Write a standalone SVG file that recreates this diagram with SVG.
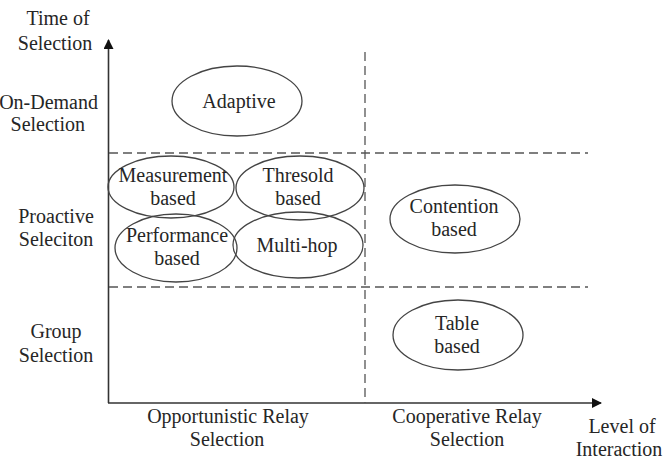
<svg xmlns="http://www.w3.org/2000/svg" width="663" height="459" viewBox="0 0 663 459">
<defs>
<style>
text{font-size:20px;fill:#262626;text-anchor:middle}
.ax{stroke:#333;stroke-width:1.6;fill:none}
.dash{stroke:#555;stroke-width:1.3;stroke-dasharray:9,5;fill:none}
ellipse{fill:none;stroke:#444;stroke-width:1.3}
</style>
<marker id="arr" markerWidth="10" markerHeight="10" refX="9" refY="5" orient="auto" markerUnits="userSpaceOnUse"><path d="M0,0 L10,5 L0,10 Z" fill="#111"/></marker>
</defs>
<rect width="663" height="459" fill="#fff"/>
<g id="connectors">
<line class="ax" x1="108.5" y1="403" x2="108.5" y2="40" marker-end="url(#arr)"/>
<line class="ax" x1="108" y1="403" x2="601" y2="403" marker-end="url(#arr)"/>
<line class="dash" x1="109" y1="153" x2="588" y2="153"/>
<line class="dash" x1="109" y1="287" x2="588" y2="287"/>
<line class="dash" x1="365" y1="52" x2="365" y2="403"/>
</g>
<g font-family="'Liberation Serif', 'Times New Roman', serif">
<g id="axis-labels">
<text x="58" y="25">Time of</text>
<text x="55" y="50">Selection</text>
<text x="98" y="109" style="text-anchor:end">On-Demand</text>
<text x="85" y="131" style="text-anchor:end">Selection</text>
<text x="56" y="223">Proactive</text>
<text x="56" y="246">Seleciton</text>
<text x="56" y="338">Group</text>
<text x="56" y="362">Selection</text>
<text x="228" y="423">Opportunistic Relay</text>
<text x="227" y="446">Selection</text>
<text x="467" y="423">Cooperative Relay</text>
<text x="467" y="446">Selection</text>
<text x="622" y="433">Level of</text>
<text x="619" y="456">Interaction</text>
</g>
<g id="adaptive"><ellipse cx="237" cy="101" rx="65" ry="35"/><text x="239" y="108">Adaptive</text></g>
<g id="measurement"><ellipse cx="171" cy="187" rx="63" ry="31"/><text x="173" y="182">Measurement</text><text x="173" y="205">based</text></g>
<g id="thresold"><ellipse cx="300" cy="188" rx="64" ry="32"/><text x="298" y="182">Thresold</text><text x="298" y="205">based</text></g>
<g id="performance"><ellipse cx="176" cy="248" rx="61" ry="34"/><text x="177" y="242">Performance</text><text x="177" y="265">based</text></g>
<g id="multihop"><ellipse cx="298" cy="245" rx="65" ry="33"/><text x="297" y="252">Multi-hop</text></g>
<g id="contention"><ellipse cx="455" cy="219" rx="65" ry="34"/><text x="454" y="213">Contention</text><text x="454" y="236">based</text></g>
<g id="table"><ellipse cx="458" cy="335" rx="65" ry="35"/><text x="457" y="330">Table</text><text x="457" y="353">based</text></g>
</g>
</svg>
